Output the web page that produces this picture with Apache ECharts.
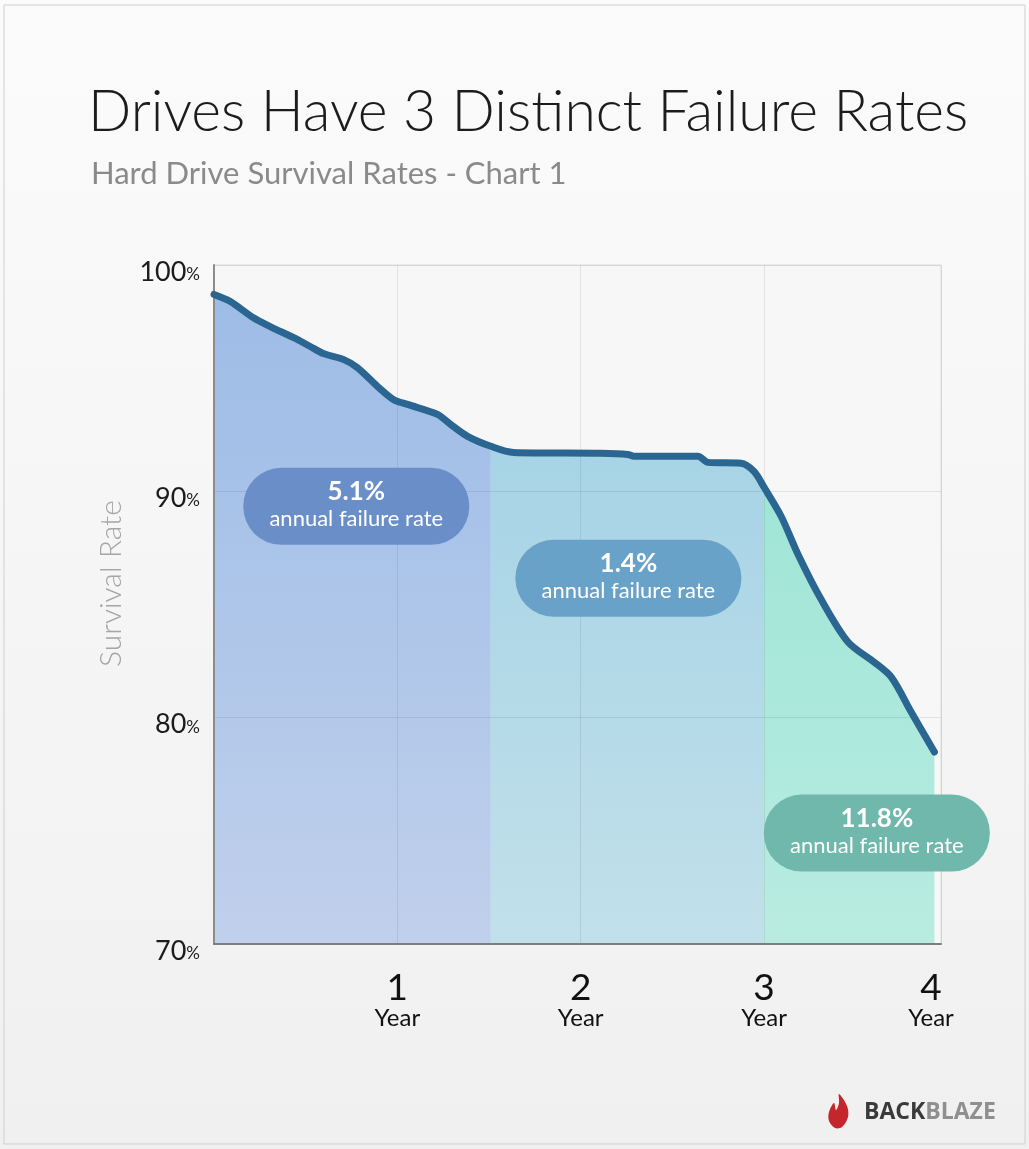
<!DOCTYPE html>
<html>
<head>
<meta charset="utf-8">
<title>Drives Have 3 Distinct Failure Rates</title>
<script src="https://cdn.jsdelivr.net/npm/echarts@6/dist/echarts.min.js"></script>
<style>
  html, body { margin: 0; padding: 0; background: #f5f5f5; }
  #chart { width: 1029px; height: 1149px; }
</style>
</head>
<body>
<div id="chart"></div>
<script>
// survival curve (x in years, y in %)
const years = [0, 0.087, 0.213, 0.306, 0.432, 0.525, 0.596, 0.705, 0.781, 0.891, 0.978, 1.055, 1.219, 1.29, 1.383, 1.51,
  1.634, 2.109, 2.257, 2.29, 2.639, 2.694, 2.874, 2.945, 3.0, 3.093, 3.186, 3.311, 3.459, 3.601, 3.694, 3.803, 3.929]
const survival = [98.7, 98.4, 97.68, 97.28, 96.8, 96.4, 96.09, 95.83, 95.47, 94.64, 94.06, 93.84, 93.4, 92.96, 92.43, 91.99,
  91.72, 91.68, 91.63, 91.55, 91.55, 91.28, 91.24, 90.88, 90.18, 88.9, 87.2, 85.23, 83.33, 82.45, 81.79, 80.24, 78.48]

// the three failure-rate phases
const phaseBreaks = [0, 1.51, 3.0, 3.929]
const phaseRates = ['5.1%', '1.4%', '11.8%']
const phaseLabelX = [0.776, 2.26, 3.615]
const phaseLabelY = [89.34, 86.16, 74.9]

const yTicks = [70, 80, 90, 100]
const xTicks = [1, 2, 3, 4]

const phaseColors = [
  ['#9bbbe6', '#c0d0ec'],
  ['#9dcfe4', '#c1e0ea'],
  ['#92e2d2', '#b9ece1']
]
const pillColors = ['#6a8fc8', '#69a2c9', '#70b8ab']

const points = years.map((x, i) => [x, survival[i]])

function phaseData(i) {
  return points.filter(p => p[0] >= phaseBreaks[i] && p[0] <= phaseBreaks[i + 1])
}

const areaSeries = phaseRates.map((r, i) => ({
  type: 'line',
  data: phaseData(i),
  smooth: 0.3,
  symbol: 'none',
  z: 2,
  lineStyle: { width: 0 },
  areaStyle: {
    opacity: 1,
    origin: 'start',
    color: new echarts.graphic.LinearGradient(0, 265, 0, 944, [
      { offset: 0, color: phaseColors[i][0] },
      { offset: 1, color: phaseColors[i][1] }
    ], true)
  },
  silent: true
}))

const chart = echarts.init(document.getElementById('chart'))

const option = {
  animation: false,
  backgroundColor: new echarts.graphic.LinearGradient(0, 0, 0, 1, [
    { offset: 0, color: '#fbfbfb' },
    { offset: 1, color: '#f0f0f0' }
  ]),
  title: [{
    text: 'Drives Have 3 Distinct Failure Rates',
    left: 83,
    top: 79,
    textStyle: { fontFamily: 'Lato', fontWeight: 300, fontSize: 57, color: '#1c1c1c' }
  }, {
    text: 'Hard Drive Survival Rates - Chart 1',
    left: 86,
    top: 153,
    textStyle: { fontFamily: 'Lato', fontWeight: 400, fontSize: 31, color: '#8a8a8a' }
  }],
  grid: {
    left: 214,
    right: 88,
    top: 265,
    bottom: 205,
    show: true,
    backgroundColor: '#f7f7f7',
    borderColor: '#dcdcdc',
    borderWidth: 1
  },
  xAxis: {
    type: 'value',
    min: 0,
    max: 3.965,
    interval: 1,
    z: 3,
    axisLine: { show: true, onZero: false, lineStyle: { color: '#7d7d7d', width: 2 } },
    axisTick: { show: false },
    splitLine: { show: true, lineStyle: { color: 'rgba(0,0,0,0.08)', width: 1 } },
    axisLabel: {
      showMinLabel: false,
      showMaxLabel: true,
      margin: 27,
      formatter: v => {
        const n = xTicks.find(t => Math.abs(t - v) < 0.1)
        if (!n) return ''
        // last label sits a little inside the plot edge
        return n === 4 ? `{n4|${n}}\n{y4|Year}` : `{n|${n}}\n{y|Year}`
      },
      rich: {
        n: { fontFamily: 'Lato', fontSize: 37, color: '#111', lineHeight: 34, align: 'center' },
        y: { fontFamily: 'Lato', fontSize: 24, color: '#111', lineHeight: 27, align: 'center' },
        n4: { fontFamily: 'Lato', fontSize: 37, color: '#111', lineHeight: 34, align: 'center', padding: [0, 20, 0, 0] },
        y4: { fontFamily: 'Lato', fontSize: 24, color: '#111', lineHeight: 27, align: 'center', padding: [0, 20, 0, 0] }
      }
    }
  },
  yAxis: {
    type: 'value',
    min: 70,
    max: 100,
    interval: 10,
    z: 3,
    name: 'Survival Rate',
    nameLocation: 'middle',
    nameGap: 88,
    nameTextStyle: { fontFamily: 'Lato', fontWeight: 300, fontSize: 30, color: '#a5a5a5', padding: [0, 0, 0, 42] },
    axisLine: { show: true, lineStyle: { color: '#8c8c8c', width: 2 } },
    axisTick: { show: false },
    splitLine: { show: true, lineStyle: { color: 'rgba(0,0,0,0.08)', width: 1 } },
    axisLabel: {
      margin: 14,
      formatter: v => yTicks.includes(v) ? `{v|${v}}{p|%}` : '',
      rich: {
        v: { fontFamily: 'Lato', fontSize: 27, color: '#1c1c1c', padding: [14, 0, 0, 0] },
        p: { fontFamily: 'Lato', fontSize: 17, color: '#1c1c1c', padding: [19, 0, 0, 0] }
      }
    }
  },
  series: [
    ...areaSeries,
    {
      type: 'line',
      data: points,
      smooth: 0.3,
      symbol: 'none',
      z: 5,
      lineStyle: { color: '#2b6591', width: 7, cap: 'round', join: 'round' }
    },
    {
      // rate pills
      type: 'scatter',
      z: 6,
      symbolSize: 0,
      itemStyle: { opacity: 1 },
      data: phaseRates.map((r, i) => ({
        value: [phaseLabelX[i], phaseLabelY[i]],
        label: { backgroundColor: pillColors[i] }
      })),
      label: {
        show: true,
        position: 'inside',
        width: 226,
        align: 'center',
        borderRadius: 38,
        padding: [9, 0, 13, 0],
        formatter: p => `{a|${phaseRates[p.dataIndex]}}\n{b|annual failure rate}`,
        rich: {
          a: { fontFamily: 'Lato', fontWeight: 'bold', fontSize: 26, color: '#fff', lineHeight: 30, align: 'center' },
          b: { fontFamily: 'Lato', fontSize: 22, color: '#fff', lineHeight: 25, align: 'center' }
        }
      },
      silent: true
    }
  ],
  graphic: [
    {
      type: 'rect',
      shape: { x: 4, y: 5, width: 1021, height: 1139 },
      style: { fill: 'none', stroke: '#cfcfcf', lineWidth: 1 },
      silent: true
    },
    {
      // flame logo
      type: 'polygon',
      x: 828,
      y: 1094,
      shape: {
        points: [[11, 0], [19, 12], [20, 23], [14, 33], [7, 34], [1, 27], [1, 18], [6, 9], [8, 16], [11, 9]],
        smooth: 0.35
      },
      style: { fill: '#c4262c' },
      silent: true
    },
    {
      type: 'text',
      x: 864,
      y: 1112,
      style: {
        text: '{a|BACK}{b|BLAZE}',
        verticalAlign: 'middle',
        rich: {
          a: { fontFamily: 'Open Sans', fontWeight: 'bold', fontSize: 23, fill: '#3a3a3a' },
          b: { fontFamily: 'Open Sans', fontWeight: 'bold', fontSize: 23, fill: '#8f8f8f' }
        }
      },
      silent: true
    }
  ]
}

chart.setOption(option)
window.addEventListener('resize', chart.resize)
</script>
</body>
</html>
